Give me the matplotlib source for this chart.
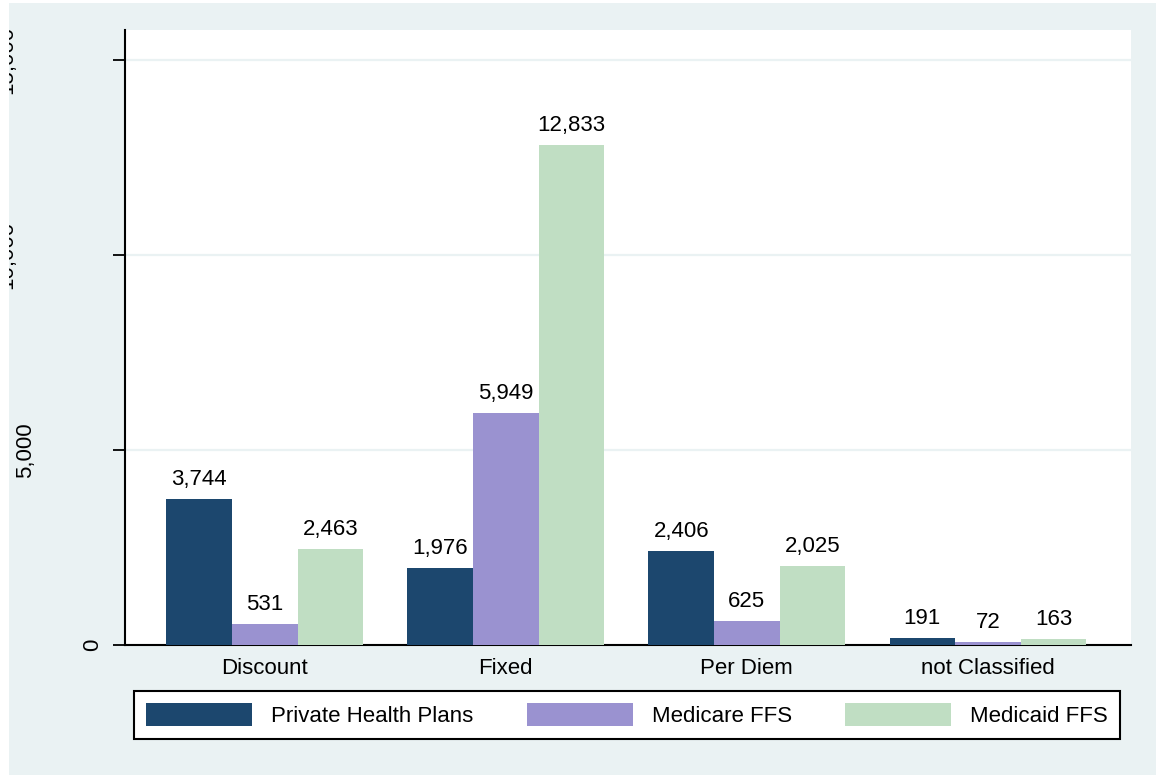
import numpy as np
import matplotlib
matplotlib.use('Agg')
import matplotlib.pyplot as plt
import matplotlib.transforms as mtransforms
from matplotlib.patches import Rectangle

categories = ['Discount', 'Fixed', 'Per Diem', 'not Classified']
series = ['Private Health Plans', 'Medicare FFS', 'Medicaid FFS']
private_plans = [3744, 1976, 2406, 191]
medicare_ffs = [531, 5949, 625, 72]
medicaid_ffs = [2463, 12833, 2025, 163]
yticks = [0, 5000, 10000, 15000]
ytick_labels = ['0', '5,000', '10,000', '15,000']

colors = ['#1c476e', '#9a92d0', '#c0dec3']
bg = '#eaf2f3'

plt.rcParams['font.family'] = ['Liberation Sans', 'DejaVu Sans']

fig = plt.figure(figsize=(11.56, 7.75), dpi=100, facecolor='white')

# graph region: thin white strip on the left and top, like the export
region = mtransforms.Bbox([[9 / 1156, 0], [1, 1 - 3 / 775]])
fig.patches.append(Rectangle(region.p0, region.width, region.height,
                             transform=fig.transFigure, facecolor=bg,
                             edgecolor='none', zorder=-10))
clip = mtransforms.TransformedBbox(region, fig.transFigure)

ax = fig.add_axes([0.1081, 0.1677, 0.8703, 0.7936])
ax.set_facecolor('white')

x = np.arange(len(categories))
w = 0.272
for i, (vals, c, name) in enumerate(zip([private_plans, medicare_ffs, medicaid_ffs], colors, series)):
    bars = ax.bar(x + (i - 1) * w, vals, w, color=c, label=name, zorder=3)
    ax.bar_label(bars, labels=[f'{v:,}' for v in vals], padding=6.5, fontsize=16)

ax.set_xlim(-0.58, 3.594)
ax.set_ylim(0, 15770)

for s in ['top', 'right']:
    ax.spines[s].set_visible(False)
for s in ['left', 'bottom']:
    ax.spines[s].set_color('black')
    ax.spines[s].set_linewidth(1.5)

# y ticks, labels drawn by hand to copy the odd rotated placement
ax.set_yticks(yticks)
ax.set_yticklabels([])
ax.tick_params(axis='y', length=8.6, width=1.3, color='black')
ax.yaxis.grid(True, color=bg, linewidth=1.6)
ax.set_axisbelow(True)

trans = mtransforms.blended_transform_factory(fig.transFigure, ax.transData)
label_right = {1: 103, 5: 36, 6: 17}
for v, lab in zip(yticks, ytick_labels):
    px = label_right.get(len(lab), 17)
    t = ax.text(px / 1156, v, lab, transform=trans, rotation=90, ha='right',
                va='center', fontsize=16)
    t.set_clip_on(True)
    t.set_clip_box(clip)

ax.set_xticks(x, categories)
ax.tick_params(axis='x', length=0, pad=9.5, labelsize=16)

leg = fig.legend(loc='center', bbox_to_anchor=(0.1064, 0.0674, 0.872, 0.02),
                 mode='expand', ncol=3, fontsize=16, handlelength=4.77,
                 handleheight=1.17, handletextpad=0.85, borderpad=0.55,
                 fancybox=False, framealpha=1, edgecolor='black')
leg.get_frame().set_linewidth(1.5)

fig.savefig('out.png', dpi=100, facecolor='white')
